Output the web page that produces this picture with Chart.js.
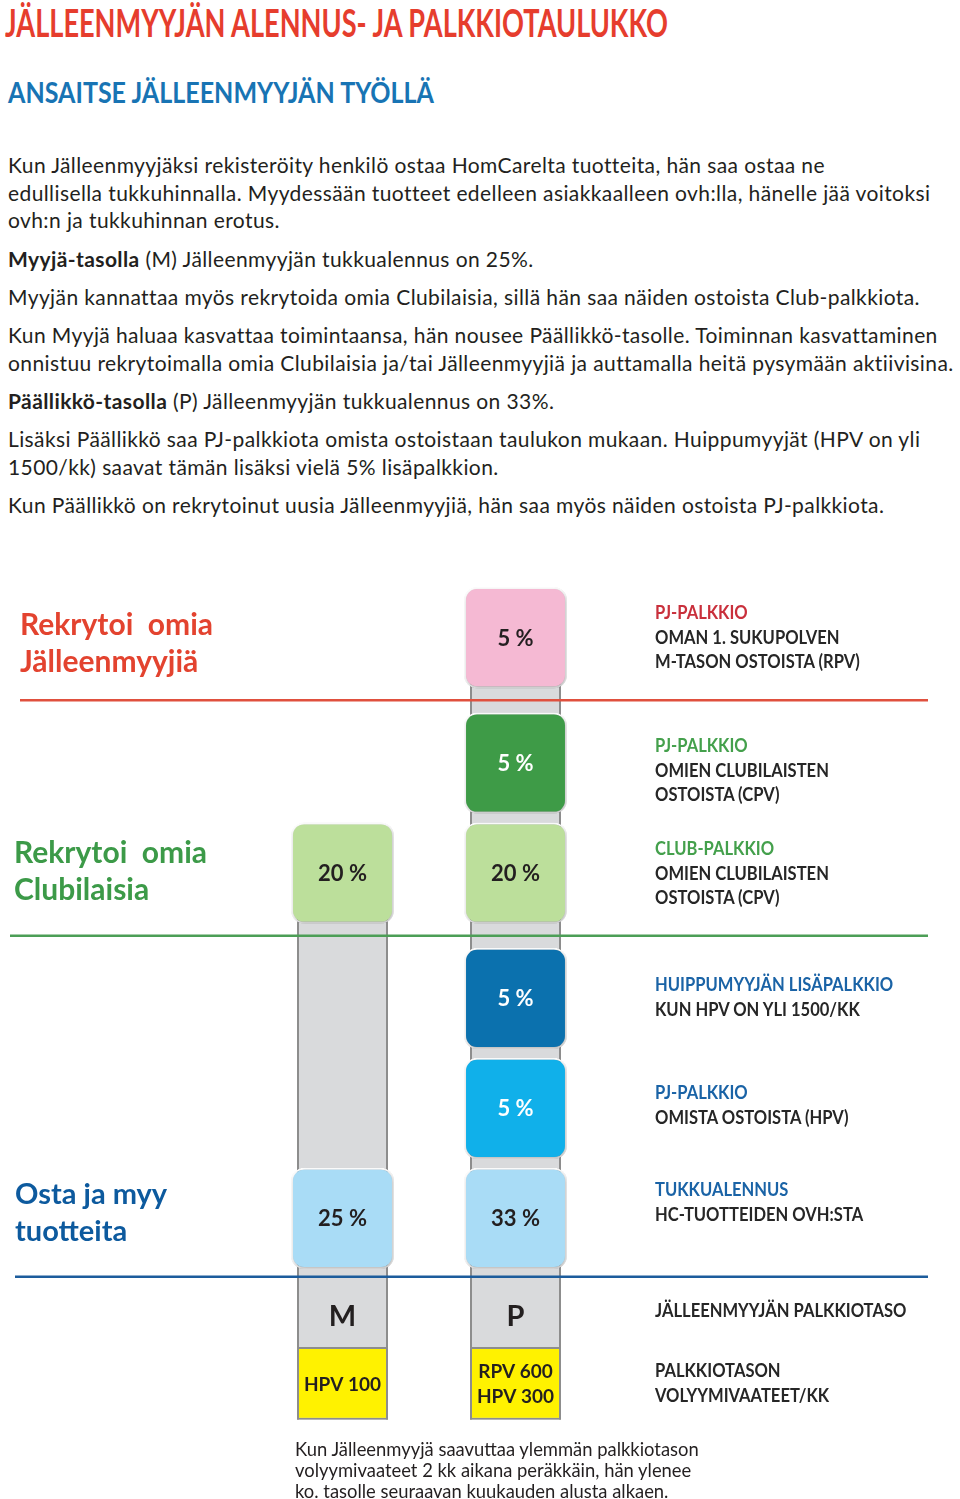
<!DOCTYPE html>
<html lang="fi">
<head>
<meta charset="utf-8">
<title>Jälleenmyyjän alennus- ja palkkiotaulukko</title>
<script src="https://cdn.jsdelivr.net/npm/chart.js@4.4.1/dist/chart.umd.min.js"></script>
<style>
  body { margin: 0; background: #fff; font-family: Lato, "Open Sans", sans-serif; color: #231f20; }
  #page { position: relative; width: 960px; height: 1499px; overflow: hidden; }
  .abs { position: absolute; white-space: nowrap; }
  .fit { display: inline-block; transform-origin: 0 50%; }
  #intro { left: 8px; top: 150.9px; font-size: 21px; line-height: 27.7px; letter-spacing: 0.4px; }
  #intro p { margin: 0 0 10.6px 0; }
  .head { font-weight: 700; font-size: 30px; line-height: 37px; }
  .rl { left: 655px; font-weight: 700; font-size: 18px; line-height: 24.3px; transform: scaleX(0.92); transform-origin: 0 0; color: #262626; }
  .rl .red { color: #c9303c; }
  .rl .green { color: #44a04c; }
  .rl .blue { color: #1a63a6; }
  #note { left: 295px; top: 1439.3px; font-size: 18.4px; line-height: 21px; }
  #chart { position: absolute; left: 0; top: 560px; }
</style>
</head>
<body>
<div id="page">
  <div class="abs" style="left:5px; top:3.4px; font-weight:700; font-size:39px; line-height:39px; color:#e63d2d">
    <span class="fit" data-w="663">JÄLLEENMYYJÄN ALENNUS- JA PALKKIOTAULUKKO</span>
  </div>
  <div class="abs" style="left:8px; top:77.3px; font-weight:700; font-size:29px; line-height:29px; color:#1874b4">
    <span class="fit" data-w="426">ANSAITSE JÄLLEENMYYJÄN TYÖLLÄ</span>
  </div>

  <div class="abs" id="intro">
    <p>Kun Jälleenmyyjäksi rekisteröity henkilö ostaa HomCarelta tuotteita, hän saa ostaa ne<br>edullisella tukkuhinnalla. Myydessään tuotteet edelleen asiakkaalleen ovh:lla, hänelle jää voitoksi<br>ovh:n ja tukkuhinnan erotus.</p>
    <p><b>Myyjä-tasolla</b> (M) Jälleenmyyjän tukkualennus on 25%.</p>
    <p>Myyjän kannattaa myös rekrytoida omia Clubilaisia, sillä hän saa näiden ostoista Club-palkkiota.</p>
    <p>Kun Myyjä haluaa kasvattaa toimintaansa, hän nousee Päällikkö-tasolle. Toiminnan kasvattaminen<br>onnistuu rekrytoimalla omia Clubilaisia ja/tai Jälleenmyyjiä ja auttamalla heitä pysymään aktiivisina.</p>
    <p><b>Päällikkö-tasolla</b> (P) Jälleenmyyjän tukkualennus on 33%.</p>
    <p>Lisäksi Päällikkö saa PJ-palkkiota omista ostoistaan taulukon mukaan. Huippumyyjät (HPV on yli<br>1500/kk) saavat tämän lisäksi vielä 5% lisäpalkkion.</p>
    <p>Kun Päällikkö on rekrytoinut uusia Jälleenmyyjiä, hän saa myös näiden ostoista PJ-palkkiota.</p>
  </div>

  <canvas id="chart" width="960" height="880"></canvas>

  <div class="abs head" style="left:20px; top:605.3px; color:#e3432f">Rekrytoi&nbsp; omia<br>Jälleenmyyjiä</div>
  <div class="abs head" style="left:14px; top:833.3px; color:#3c9a48">Rekrytoi&nbsp; omia<br>Clubilaisia</div>
  <div class="abs head" style="left:15px; top:1173.7px; font-size:29px; color:#0d5a9e">Osta ja myy<br>tuotteita</div>

  <div class="abs rl" style="top:600.4px"><span class="red">PJ-PALKKIO</span><br>OMAN 1. SUKUPOLVEN<br>M-TASON OSTOISTA (RPV)</div>
  <div class="abs rl" style="top:733.4px"><span class="green">PJ-PALKKIO</span><br>OMIEN CLUBILAISTEN<br>OSTOISTA (CPV)</div>
  <div class="abs rl" style="top:836.4px"><span class="green">CLUB-PALKKIO</span><br>OMIEN CLUBILAISTEN<br>OSTOISTA (CPV)</div>
  <div class="abs rl" style="top:972.4px"><span class="blue">HUIPPUMYYJÄN LISÄPALKKIO</span><br>KUN HPV ON YLI 1500/KK</div>
  <div class="abs rl" style="top:1080.4px"><span class="blue">PJ-PALKKIO</span><br>OMISTA OSTOISTA (HPV)</div>
  <div class="abs rl" style="top:1177.4px"><span class="blue">TUKKUALENNUS</span><br>HC-TUOTTEIDEN OVH:STA</div>
  <div class="abs rl" style="top:1298.4px">JÄLLEENMYYJÄN PALKKIOTASO</div>
  <div class="abs rl" style="top:1358.4px">PALKKIOTASON<br>VOLYYMIVAATEET/KK</div>

  <div class="abs" id="note">Kun Jälleenmyyjä saavuttaa ylemmän palkkiotason<br>volyymivaateet 2 kk aikana peräkkäin, hän ylenee<br>ko. tasolle seuraavan kuukauden alusta alkaen.</div>
</div>

<script>
// palkkiotasot (sarakkeet)
const levels = ['M', 'P'];
const levelRequirements = [['HPV 100'], ['RPV 600', 'HPV 300']];

// palkkiorivit ylhäältä alas
const tierNames = ['PJ-palkkio RPV', 'PJ-palkkio CPV', 'Club-palkkio CPV', 'Huippumyyjän lisäpalkkio', 'PJ-palkkio HPV', 'Tukkualennus'];
const tierSection = [0, 1, 1, 2, 2, 2];
const percentM = [null, null, 20, null, null, 25];
const percentP = [5, 5, 20, 5, 5, 33];
const tierColors = ['#f5b9d3', '#3e9b47', '#bcdf9b', '#0b71ae', '#10b0ea', '#a9dcf6'];
const tierTextColors = ['#231f20', '#ffffff', '#231f20', '#ffffff', '#ffffff', '#231f20'];
const sectionLineColors = ['#e0503e', '#4c9e56', '#1c5c9c'];

// asettelu rivi-yksiköissä
const BOX = 0.92;
const SECTION_GAP = 0.14;
const tierTop = tierSection.map((s, i) => i + s * SECTION_GAP);
const LABEL_ROW = 6.62;
const REQ_START = 6.91;
const REQ_END = 7.57;

const columnPercents = [percentM, percentP];

const boxSets = tierNames.map((name, i) => ({
  label: name,
  kind: 'box',
  percents: columnPercents.map(col => col[i]),
  data: columnPercents.map(col => col[i] == null ? null : [tierTop[i], tierTop[i] + BOX]),
  backgroundColor: tierColors[i],
  borderColor: '#ffffff',
  borderWidth: 2,
  borderRadius: 13,
  borderSkipped: false,
  barPercentage: 0.595,
  categoryPercentage: 1,
  grouped: false,
  order: 0
}));

const columnStart = columnPercents.map(col => tierTop[col.findIndex(v => v != null)] + BOX / 2);

const columnSet = {
  label: 'taso',
  data: columnStart.map(s => [s, REQ_END]),
  backgroundColor: '#d9dadc',
  borderColor: '#8d8d8d',
  borderWidth: { left: 2, right: 2, top: 0, bottom: 0 },
  borderSkipped: false,
  barPercentage: 0.526,
  categoryPercentage: 1,
  grouped: false,
  order: 2
};

const reqSet = {
  label: 'vaatimus',
  data: levels.map(() => [REQ_START, REQ_END]),
  backgroundColor: '#fff200',
  borderColor: '#8d8d8d',
  borderWidth: 2,
  borderSkipped: false,
  barPercentage: 0.526,
  categoryPercentage: 1,
  grouped: false,
  order: 1
};

const boxShadow = {
  id: 'boxShadow',
  beforeDatasetDraw(chart, args) {
    if (chart.data.datasets[args.index].kind !== 'box') return;
    const ctx = chart.ctx;
    ctx.save();
    ctx.shadowColor = 'rgba(0,0,0,0.3)';
    ctx.shadowBlur = 4;
    ctx.shadowOffsetX = 1;
    ctx.shadowOffsetY = 2;
  },
  afterDatasetDraw(chart, args) {
    if (chart.data.datasets[args.index].kind === 'box') chart.ctx.restore();
  }
};

const boxLabels = {
  id: 'boxLabels',
  afterDatasetsDraw(chart) {
    const ctx = chart.ctx;
    const x = chart.scales.x, y = chart.scales.y;
    ctx.save();

    // osioiden erotinviivat
    const lineX = [[20, 928], [10, 928], [15, 928]];
    const lineY = [
      (tierTop[0] + BOX + tierTop[1]) / 2,
      (tierTop[2] + BOX + tierTop[3]) / 2,
      tierTop[5] + BOX + SECTION_GAP / 2
    ];
    lineY.forEach((v, i) => {
      const py = y.getPixelForValue(v);
      ctx.strokeStyle = sectionLineColors[i];
      ctx.lineWidth = 2.5;
      ctx.beginPath();
      ctx.moveTo(lineX[i][0], py);
      ctx.lineTo(lineX[i][1], py);
      ctx.stroke();
    });

    ctx.textAlign = 'center';
    ctx.textBaseline = 'middle';
    chart.data.datasets.forEach((ds, i) => {
      if (ds.kind !== 'box') return;
      chart.getDatasetMeta(i).data.forEach((el, c) => {
        const v = ds.percents[c];
        if (v == null) return;
        ctx.fillStyle = tierTextColors[i];
        ctx.font = 'bold 22px Lato';
        ctx.fillText(v + ' %', el.x, (el.y + el.base) / 2 + 1);
      });
    });

    levels.forEach((lv, c) => {
      const px = x.getPixelForValue(c);
      ctx.fillStyle = '#231f20';
      ctx.font = 'bold 29px Lato';
      ctx.fillText(lv, px, y.getPixelForValue(LABEL_ROW) + 1);
      const lines = levelRequirements[c];
      const mid = y.getPixelForValue((REQ_START + REQ_END) / 2);
      ctx.font = 'bold 19px Lato';
      lines.forEach((t, k) => {
        ctx.fillText(t, px, mid + (k - (lines.length - 1) / 2) * 25 + 1);
      });
    });
    ctx.restore();
  }
};

new Chart(document.getElementById('chart').getContext('2d'), {
  type: 'bar',
  data: { labels: levels, datasets: [...boxSets, reqSet, columnSet] },
  options: {
    responsive: false,
    animation: false,
    layout: { padding: { top: 27, bottom: 17, left: 256, right: 358 } },
    plugins: { legend: { display: false }, tooltip: { enabled: false } },
    scales: {
      x: { type: 'category', display: false, offset: true },
      y: { type: 'linear', display: false, reverse: true, min: 0, max: 7.6 }
    }
  },
  plugins: [boxShadow, boxLabels]
});

function fitTexts() {
  document.querySelectorAll('.fit').forEach(el => {
    el.style.transform = 'none';
    const w = el.getBoundingClientRect().width;
    el.style.transform = 'scaleX(' + (el.dataset.w / w) + ')';
  });
}
fitTexts();
document.fonts.ready.then(fitTexts);
</script>
</body>
</html>
